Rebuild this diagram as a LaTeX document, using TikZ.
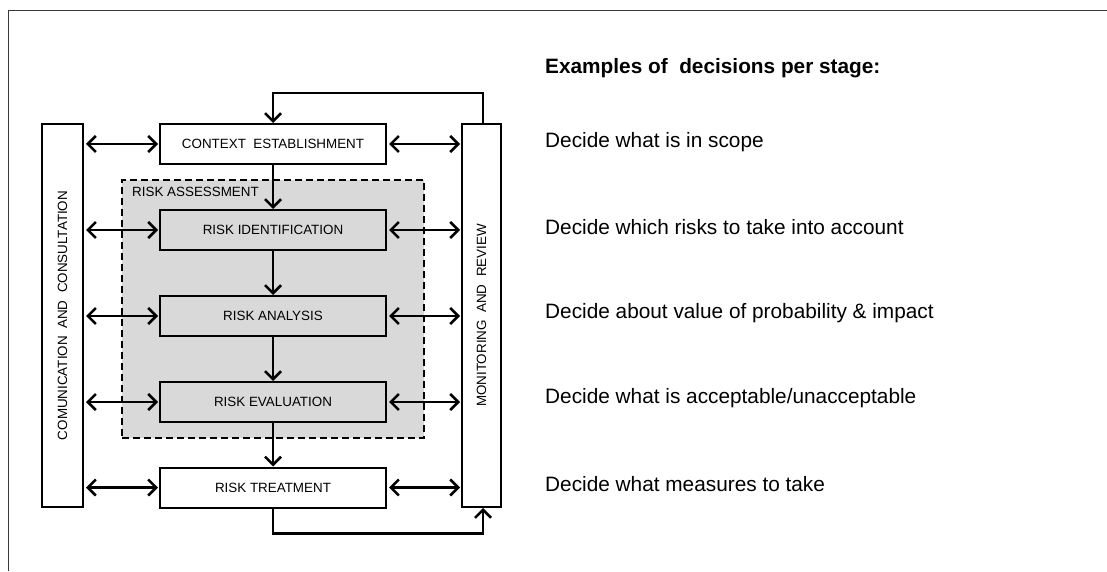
\documentclass[tikz,border=0pt]{standalone}
\usepackage{fontspec}
\setmainfont{Liberation Sans}
\usetikzlibrary{arrows.meta}
\definecolor{boxgray}{HTML}{D9D9D9}
\definecolor{framegray}{HTML}{3A3A3A}
\tikzset{
	box/.style={draw,line width=2pt,minimum width=226pt,minimum height=40pt,inner sep=0pt,font=\fontsize{13.4}{16}\selectfont},
	gbox/.style={box,fill=boxgray},
	side/.style={draw,line width=2pt,minimum height=383pt,inner sep=0pt,font=\fontsize{13.4}{16}\selectfont},
	assess/.style={draw,line width=1.7pt,dash pattern=on 7pt off 4pt,fill=boxgray,minimum width=302pt,minimum height=258pt,inner sep=0pt},
	flow/.style={line width=2.6pt,-{Straight Barb[length=8pt,width=16pt,line width=2.5pt]}},
	link/.style={line width=2.6pt,{Straight Barb[length=8pt,width=16pt,line width=2.5pt]}-{Straight Barb[length=8pt,width=16pt,line width=2.5pt]}},
	note/.style={anchor=west,inner sep=0pt,font=\fontsize{20.8}{24}\selectfont}
}

\begin{document}
\begin{tikzpicture}[x=1pt,y=1pt]
	\useasboundingbox (0,0) rectangle (1107,571);
	\draw[framegray,line width=1.2pt] (8.5,0) -- (8.5,560.5) -- (1107,560.5);

	\node [assess] (ra) at (273,262) {};
	\node [anchor=base west,inner sep=0pt,font=\fontsize{13.4}{16}\selectfont] (ralabel) at (132,374) {RISK ASSESSMENT};

	\node [side,minimum width=41pt] (comm) at (62.5,255.5) {\rotatebox{90}{COMUNICATION\ \ AND\ \ CONSULTATION}};
	\node [side,minimum width=39pt] (mon) at (481.5,255.5) {\rotatebox{90}{MONITORING\ \ AND\ \ REVIEW}};

	\node [box] (ctx) at (273,427) {CONTEXT\ \ ESTABLISHMENT};
	\node [gbox] (ident) at (273,341) {RISK IDENTIFICATION};
	\node [gbox] (anal) at (273,255) {RISK ANALYSIS};
	\node [gbox] (eval) at (273,169) {RISK EVALUATION};
	\node [box] (treat) at (273,83.5) {RISK TREATMENT};

	\draw [flow] (ctx) -- (ident);
	\draw [flow] (ident) -- (anal);
	\draw [flow] (anal) -- (eval);
	\draw [flow] (eval) -- (treat);
	\foreach \n in {ctx,ident,anal,eval,treat} {
		\draw [link,shorten <=2pt,shorten >=1pt] (comm.east |- \n) -- (\n.west);
		\draw [link,shorten <=2pt,shorten >=1pt] (\n.east) -- (mon.west |- \n);
	}
	\draw [flow] ([xshift=1.5pt]mon.north) -- ++(0,30) -| (ctx.north);
	\draw [flow] (treat.south) -- ++(0,-25) -| ([xshift=1.5pt]mon.south);

	\node [note,font=\bfseries\fontsize{20.8}{24}\selectfont] (head) at (545,503) {Examples of\ \ decisions per stage:};
	\node [note] (d1) at (545,429) {Decide what is in scope};
	\node [note] (d2) at (545,344) {Decide which risks to take into account};
	\node [note] (d3) at (545,258) {Decide about value of probability \& impact};
	\node [note] (d4) at (545,173) {Decide what is acceptable/unacceptable};
	\node [note] (d5) at (545,87) {Decide what measures to take};
\end{tikzpicture}
\end{document}
